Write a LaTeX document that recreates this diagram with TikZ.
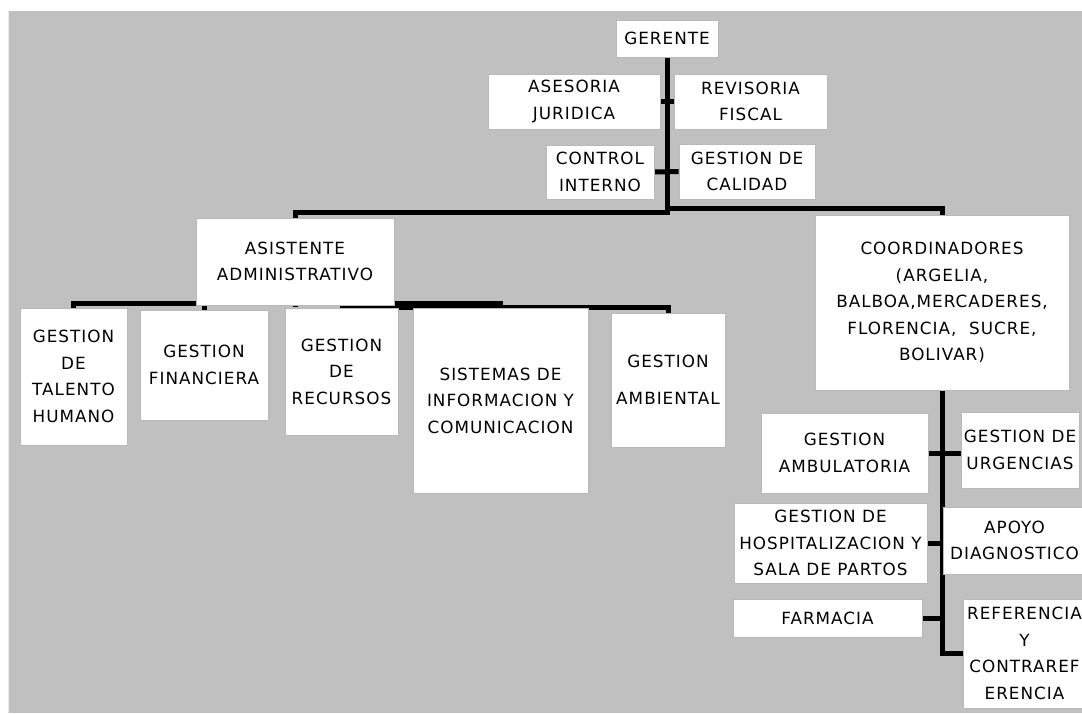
\documentclass[tikz,border=0pt]{standalone}
\usepackage{fontspec}
\setmainfont{DejaVu Sans}[LetterSpace=6.0]
\usetikzlibrary{backgrounds,shadows}
\definecolor{fondo}{RGB}{192,192,192}
\begin{document}
\begin{tikzpicture}[x=1pt,y=-1pt,
    caja/.style={draw=gray!55, fill=white, line width=0.8pt, align=center, inner sep=0pt,
      font=\fontsize{16.8}{26.5}\selectfont,
      drop shadow={shadow xshift=1.2pt, shadow yshift=-1.2pt, fill=black, opacity=0.35}},
    conn/.style={line width=5pt, black}]
    \useasboundingbox (0,0) rectangle (1082,713);
    \begin{scope}[on background layer]
    \fill[fondo] (8,11) rectangle (1082,713);
    \draw[white!85!gray, line width=1pt] (8.5,11) -- (8.5,713);
    \end{scope}
    \node[caja, minimum width=102, minimum height=37] (ger) at (667,38.5) {GERENTE};
    \node[caja, minimum width=172, minimum height=55] (ase) at (574,101.5) {ASESORIA\\JURIDICA};
    \node[caja, minimum width=153, minimum height=55] (rev) at (750.5,101.5) {REVISORIA\\FISCAL};
    \node[caja, minimum width=108, minimum height=54] (con) at (600,172) {CONTROL\\INTERNO};
    \node[caja, minimum width=136, minimum height=55] (cal) at (747,171.5) {GESTION DE\\CALIDAD};
    \node[caja, minimum width=198, minimum height=87] (asi) at (295,261.5) {ASISTENTE\\ADMINISTRATIVO};
    \node[caja, minimum width=254, minimum height=175] (coo) at (942,302.5)
      {COORDINADORES\\(ARGELIA,\\BALBOA,MERCADERES,\\FLORENCIA,\ \ SUCRE,\\BOLIVAR)};
    \node[caja, minimum width=107, minimum height=137] (tal) at (73.5,376.5) {GESTION\\DE\\TALENTO\\HUMANO};
    \node[caja, minimum width=128, minimum height=110] (fin) at (204,365) {GESTION\\FINANCIERA};
    \node[caja, minimum width=113, minimum height=127] (rec) at (341.5,371.5) {GESTION\\DE\\RECURSOS};
    \node[caja, minimum width=175, minimum height=185] (sis) at (500.5,400.5)
      {SISTEMAS DE\\INFORMACION Y\\COMUNICACION};
    \node[caja, minimum width=114, minimum height=134] (amb) at (668,380) {GESTION\\[10pt]AMBIENTAL};
    \node[caja, minimum width=167, minimum height=80] (ambu) at (844.5,453) {GESTION\\AMBULATORIA};
    \node[caja, minimum width=118, minimum height=76] (urg) at (1020,450) {GESTION DE\\URGENCIAS};
    \node[caja, minimum width=193, minimum height=80] (hos) at (830.5,543)
      {GESTION DE\\HOSPITALIZACION Y\\SALA DE PARTOS};
    \node[caja, minimum width=143, minimum height=67] (apo) at (1014.5,540.5) {APOYO\\DIAGNOSTICO};
    \node[caja, minimum width=189, minimum height=38] (far) at (827.5,618) {FARMACIA};
    \node[caja, minimum width=123, minimum height=109] (ref) at (1024.5,653.5)
      {REFERENCIA\\Y\\CONTRAREF\\ERENCIA};
    \coordinate (hl) at (295,212);
    \coordinate (hr) at (942,208);
    \coordinate (ba) at (503,303);
    \coordinate (bb) at (340,307);
    \begin{scope}[on background layer]
    \draw[conn] (ger.south) |- (hl) -- (asi.north);
    \draw[conn] (ger.south) |- (hr) -- (coo.north);
    \draw[conn] (ase.east) -- (rev.west);
    \draw[conn] (con.east) -- (cal.west);
    \draw[conn] (tal.north) |- (ba);
    \draw[conn] (fin.north) -- (fin.north |- ba);
    \draw[conn] (amb.north) |- (bb);
    \draw[conn] (asi.south) -- (asi.south |- bb);
    \draw[conn] (coo.south) |- (ref.west);
    \draw[conn] (ambu.east) -- (ambu.east -| urg.west);
    \draw[conn] (hos.east) -- (hos.east -| coo.south);
    \draw[conn] (far.east) -- (far.east -| coo.south);
    \end{scope}
\end{tikzpicture}
\end{document}
